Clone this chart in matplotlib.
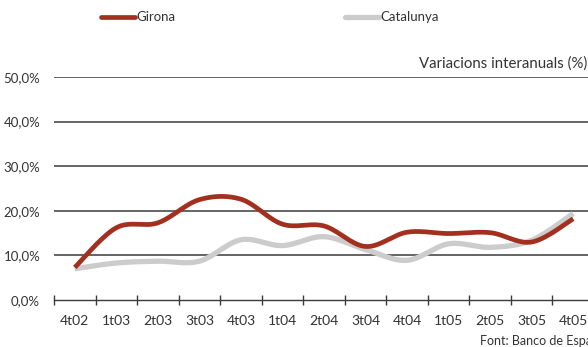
import matplotlib
matplotlib.use("Agg")
import matplotlib.pyplot as plt
import numpy as np
from matplotlib.lines import Line2D
from matplotlib.ticker import FixedLocator, FuncFormatter

quarters = ["4t02", "1t03", "2t03", "3t03", "4t03", "1t04", "2t04",
            "3t04", "4t04", "1t05", "2t05", "3t05", "4t05"]
girona = [7.3, 16.2, 17.3, 22.5, 22.6, 17.0, 16.6, 12.0, 15.2, 14.9, 15.1, 13.0, 18.2]
catalunya = [7.0, 8.3, 8.7, 8.7, 13.5, 12.2, 14.2, 11.3, 8.9, 12.6, 11.8, 13.4, 19.4]
y_ticks = [0, 10, 20, 30, 40, 50]

RED = "#A3301F"
GREY = "#CCCCCC"
TEXT = "#333333"

plt.rcParams["font.family"] = ["Lato", "DejaVu Sans"]


def smooth(values, steps=30):
    """Catmull-Rom style smoothing between consecutive points."""
    y = np.asarray(values, dtype=float)
    x = np.arange(len(y), dtype=float)
    px = np.concatenate([[x[0]], x, [x[-1]]])
    py = np.concatenate([[y[0]], y, [y[-1]]])
    xs, ys = [], []
    t = np.linspace(0, 1, steps)
    for i in range(1, len(px) - 2):
        c1x = px[i] + (px[i + 1] - px[i - 1]) / 6
        c1y = py[i] + (py[i + 1] - py[i - 1]) / 6
        c2x = px[i + 1] - (px[i + 2] - px[i]) / 6
        c2y = py[i + 1] - (py[i + 2] - py[i]) / 6
        bx = ((1 - t) ** 3 * px[i] + 3 * (1 - t) ** 2 * t * c1x
              + 3 * (1 - t) * t ** 2 * c2x + t ** 3 * px[i + 1])
        by = ((1 - t) ** 3 * py[i] + 3 * (1 - t) ** 2 * t * c1y
              + 3 * (1 - t) * t ** 2 * c2y + t ** 3 * py[i + 1])
        xs.append(bx)
        ys.append(by)
    return np.concatenate(xs), np.concatenate(ys)


fig = plt.figure(figsize=(5.88, 3.47), dpi=100)
ax = fig.add_axes([54 / 588, 47 / 347, 540 / 588, 223 / 347])

for val in y_ticks[1:]:
    ax.axhline(val, color="#3A3A3A", lw=1.1, zorder=1)

sx, sy = smooth(catalunya)
ax.plot(sx, sy, color=GREY, lw=3.8, solid_capstyle="butt", zorder=3)
sx, sy = smooth(girona)
ax.plot(sx, sy, color=RED, lw=3.4, solid_capstyle="butt", zorder=4)

ax.set_xlim(-0.5, len(quarters) - 0.5)
ax.set_ylim(0, 50)

for side in ["top", "right", "left"]:
    ax.spines[side].set_visible(False)
ax.spines["bottom"].set_color("#3A3A3A")
ax.spines["bottom"].set_linewidth(1.0)

ax.set_xticks(range(len(quarters)))
ax.set_xticklabels(quarters)
ax.xaxis.set_minor_locator(FixedLocator(np.arange(len(quarters) + 1) - 0.5))
ax.tick_params(axis="x", which="major", length=0, pad=11, labelsize=10, labelcolor=TEXT)
ax.tick_params(axis="x", which="minor", direction="inout", length=7, width=1.0, color="#3A3A3A")

ax.set_yticks(y_ticks)
ax.yaxis.set_major_formatter(FuncFormatter(lambda v, _: f"{v:.1f}%".replace(".", ",")))
ax.tick_params(axis="y", length=0, pad=10, labelsize=9.5, labelcolor=TEXT)

# legend drawn by hand across the top
fig.add_artist(Line2D([101 / 588, 135 / 588], [1 - 17 / 347] * 2, color=RED, lw=3.4,
                      solid_capstyle="round"))
fig.text(136 / 588, 1 - 17 / 347, "Girona", fontsize=9.5, color=TEXT, va="center", ha="left")
fig.add_artist(Line2D([345 / 588, 379 / 588], [1 - 17 / 347] * 2, color=GREY, lw=3.8,
                      solid_capstyle="round"))
fig.text(380 / 588, 1 - 17 / 347, "Catalunya", fontsize=9.5, color=TEXT, va="center", ha="left")

fig.text(587 / 588, 1 - 64 / 347, "Variacions interanuals (%)", fontsize=10.8, color=TEXT,
         ha="right", va="center")
fig.text(480 / 588, 1 - 341 / 347, "Font: Banco de Espanya", fontsize=9, color=TEXT,
         ha="left", va="center")

fig.savefig("out.png", dpi=100)
